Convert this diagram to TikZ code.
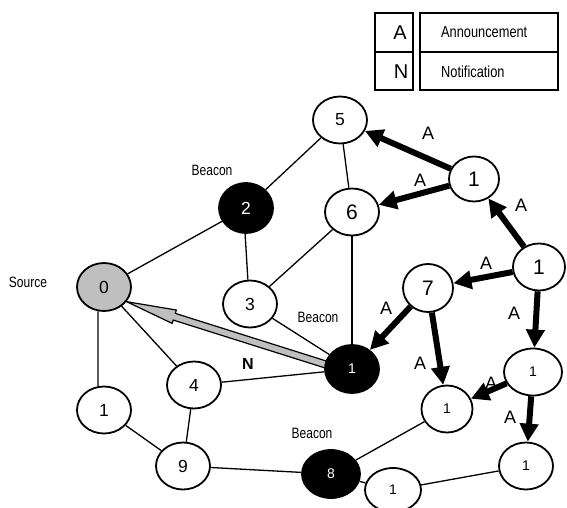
\documentclass[tikz,border=0pt]{standalone}
\usepackage{fontspec}
\setmainfont{Liberation Sans}
\newfontfamily\nf[FakeStretch=0.8]{Liberation Sans}
\usetikzlibrary{shapes.geometric,arrows.meta,calc}
\pgfdeclarelayer{background}
\pgfsetlayers{background,main}
\newcommand{\fsz}[1]{\fontsize{#1}{#1}\selectfont}
\begin{document}
\begin{tikzpicture}[x=1pt,y=-1pt,
  nd/.style={ellipse,draw,line width=1.8pt,fill=white,minimum width=54pt,minimum height=47pt,inner sep=0pt,font=\fsz{17.5}},
  big/.style={font=\fsz{21}},
  sml/.style={font=\fsz{14}},
  blk/.style={fill=black,text=white},
  lnk/.style={line width=1.3pt},
  ann/.style={line width=6pt,-{Triangle[length=18pt,width=18pt]}},
  alab/.style={font=\fsz{18}},
  blab/.style={font=\nf\fsz{15}},
  lbox/.style={draw,line width=1.8pt,inner sep=0pt}]
\useasboundingbox (0,0) rectangle (567,508);
\clip (0,0) rectangle (567,508);

% legend
\node[lbox,minimum width=38pt,minimum height=39pt] (lbA) at (394,32.5) {};
\node[lbox,minimum width=38pt,minimum height=38pt] (lbN) at (394,71) {};
\node[lbox,minimum width=138pt,minimum height=39pt] (lbAn) at (489,32.5) {};
\node[lbox,minimum width=138pt,minimum height=38pt] (lbNo) at (489,71) {};
\node[font=\fsz{20}] (ltA) at (400,33) {A};
\node[font=\fsz{20}] (ltN) at (401,72) {N};
\node[font=\nf\fsz{16},anchor=west,inner sep=0pt] (ltAn) at (441,32) {Announcement};
\node[font=\nf\fsz{16},anchor=west,inner sep=0pt] (ltNo) at (441,72) {Notification};

% nodes
\node[nd] (n5) at (340,120) {5};
\node[nd,blk,minimum height=50pt] (n2) at (246,208) {2};
\node[nd,big] (n6) at (352,212) {6};
\node[nd,big,minimum width=50pt,minimum height=45pt] (n1a) at (474,179) {1};
\node[nd,big,minimum width=52pt] (n1b) at (539,267) {1};
\node[nd,fill=black!25,minimum height=48pt] (n0) at (104,287) {0};
\node[nd,big,minimum width=50pt,minimum height=48pt] (n7) at (428,288) {7};
\node[nd] (n3) at (250,304) {3};
\node[nd,blk,sml,minimum height=48pt] (n1h) at (352,369) {1};
\node[nd] (n4) at (194,385) {4};
\node[nd,sml,minimum width=58pt] (n1c) at (533,372) {1};
\node[nd] (n1g) at (104,410) {1};
\node[nd,sml,minimum width=51pt] (n1d) at (447,409) {1};
\node[nd] (n9) at (183,466) {9};
\node[nd,blk,sml,minimum width=58pt,minimum height=48pt] (n8) at (331,474) {8};
\node[nd,sml] (n1e) at (526,466) {1};
\node[nd,sml,minimum width=56pt,minimum height=44pt] (n1f) at (393,490) {1};

% labels
\node[blab] (tsrc) at (28,282) {Source};
\node[blab] (tb2) at (212,170) {Beacon};
\node[blab] (tb1) at (318,317) {Beacon};
\node[blab] (tb8) at (312,433) {Beacon};
\node[font=\bfseries\fsz{16}] (tN) at (248,364) {N};
\node[alab] (a1) at (428,133) {A};
\node[alab] (a2) at (420,180) {A};
\node[alab] (a3) at (521,205) {A};
\node[alab] (a4) at (486,263) {A};
\node[alab] (a5) at (514,313) {A};
\node[alab] (a6) at (386,308) {A};
\node[alab] (a7) at (420,363) {A};
\node[alab] (a8) at (491,383) {A};
\node[alab] (a9) at (510,417) {A};

\begin{pgfonlayer}{background}
\fill[white] (0,0) rectangle (567,508);
% plain links
\draw[lnk] (n5) -- (n2);
\draw[lnk] (n5) -- (n6);
\draw[lnk] (n2) -- (n0);
\draw[lnk] (n2.-92) -- (n3.95);
\draw[lnk] (n6) -- (n3);
\draw[lnk] (n6) -- (n1h);
\draw[lnk] (n3) -- (n1h);
\draw[lnk] (n0) -- (n4);
\draw[lnk] (n0.-104) -- (n1g.104);
\draw[lnk] (n4) -- (n1h);
\draw[lnk] (n4) -- (n9);
\draw[lnk] (n1g) -- (n9);
\draw[lnk] (n9) -- (n8);
\draw[lnk] (n8) -- (n1d);
\draw[lnk] (n8) -- (n1f);
\draw[lnk] (n1f) -- (n1e);
% announcements
\draw[ann] (n1a) -- (n5);
\draw[ann] (n1a) -- (n6);
\draw[ann] (n1b) -- (n1a);
\draw[ann] (n1b) -- (n7);
\draw[ann] (n1b) -- (n1c);
\draw[ann] (n7) -- (n1h);
\draw[ann] (n7) -- (n1d);
\draw[ann] (n1c) -- (n1d);
\draw[ann] (n1c) -- (n1e);
% notification
\coordinate (gT) at (n0.-33);
\coordinate (gS0) at (n1h.170);
\coordinate (gS) at ($(gS0)!-8pt!(gT)$);
\coordinate (gB) at ($(gT)!50pt!(gS)$);
\draw[line width=1.2pt,fill=black!25,line join=miter]
  (gT) -- ($(gB)!7pt!90:(gS)$) -- ($(gB)!3.5pt!90:(gS)$) -- ($(gS)!3.5pt!-90:(gB)$)
  -- ($(gS)!3.5pt!90:(gB)$) -- ($(gB)!3.5pt!-90:(gS)$) -- ($(gB)!7pt!-90:(gS)$) -- cycle;
\end{pgfonlayer}
\end{tikzpicture}
\end{document}
